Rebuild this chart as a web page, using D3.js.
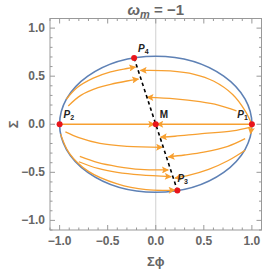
<!DOCTYPE html>
<html>
<head>
<meta charset="utf-8">
<script src="https://cdn.jsdelivr.net/npm/d3@7"></script>
<style>
  body { margin: 0; background: #fff; }
  text { font-family: "Liberation Sans", Arial, sans-serif; }
</style>
</head>
<body>
<div class="chart"></div>
<script>
var xTicks = [-1.0, -0.5, 0.0, 0.5, 1.0];
var yTicks = [-1.0, -0.5, 0.0, 0.5, 1.0];
var minorStep = 0.1;

// boundary: x^2 + y^2 / b^2 = 1
var ellipseA = 1;
var ellipseB = Math.SQRT1_2;

var points = [
  { name: "P", sub: "1", x: 1, y: 0, dx: -4, dy: -6, anchor: "end" },
  { name: "P", sub: "2", x: -1, y: 0, dx: 4, dy: -6, anchor: "start" },
  { name: "P", sub: "3", x: 0.225, y: -0.689, dx: 0, dy: -8, anchor: "start" },
  { name: "P", sub: "4", x: -0.225, y: 0.689, dx: 4, dy: -6, anchor: "start" },
  { name: "M", sub: "", x: 0, y: 0, dx: 4, dy: -6, anchor: "start" }
];

// trajectories, start -> end (arrow at end)
var trajectories = [
  [[-0.93, 0.26], [-0.82, 0.38], [-0.65, 0.48], [-0.47, 0.545], [-0.3, 0.58], [-0.21, 0.595]],
  [[-0.91, 0.19], [-0.78, 0.3], [-0.6, 0.38], [-0.47, 0.415], [-0.3, 0.45], [-0.18, 0.47]],
  [[0.99, 0.02], [0.93, 0.14], [0.8, 0.31], [0.6, 0.45], [0.4, 0.52], [0.15, 0.555], [-0.16, 0.56]],
  [[0.84, 0.14], [0.65, 0.2], [0.46, 0.235], [0.2, 0.265], [-0.09, 0.28]],
  [[-1, 0], [-0.012, 0]],
  [[1, 0], [0.012, 0]],
  [[0.99, -0.03], [0.8, -0.07], [0.46, -0.1], [0.2, -0.125], [0.05, -0.135]],
  [[0.997, -0.02], [0.985, -0.1]],
  [[0.93, -0.15], [0.75, -0.23], [0.5, -0.29], [0.3, -0.32], [0.13, -0.34]],
  [[0.93, -0.27], [0.75, -0.38], [0.55, -0.47], [0.35, -0.53], [0.2, -0.56]],
  [[-0.94, -0.08], [-0.8, -0.14], [-0.58, -0.2], [-0.3, -0.23], [0.07, -0.24]],
  [[-0.79, -0.335], [-0.6, -0.4], [-0.4, -0.44], [-0.16, -0.47], [0.13, -0.475]],
  [[-0.8, -0.39], [-0.6, -0.46], [-0.4, -0.5], [-0.16, -0.527], [0.16, -0.545]],
  [[-0.99, -0.1], [-0.9, -0.3], [-0.7, -0.49], [-0.4, -0.62], [-0.1, -0.68], [0.2, -0.685]]
];

var width = 263, height = 271;
var frame = { left: 50, right: 261.5, top: 18.5, bottom: 230 };
var orange = "#f7a031", blue = "#5e81b5", gray = "#999";

var svg = d3.select(".chart").append("svg")
  .attr("width", width)
  .attr("height", height);

var x = d3.scaleLinear().domain([-1.1, 1.1]).range([frame.left, frame.right]);
var y = d3.scaleLinear().domain([-1.1, 1.1]).range([frame.bottom, frame.top]);

svg.append("defs").append("marker")
  .attr("id", "arrow")
  .attr("viewBox", "0 0 10 10")
  .attr("refX", 9).attr("refY", 5)
  .attr("markerUnits", "userSpaceOnUse")
  .attr("markerWidth", 9).attr("markerHeight", 7)
  .attr("orient", "auto")
  .append("path")
  .attr("d", "M0,0L10,5L0,10L2,5Z")
  .attr("fill", orange);

// axis line at x = 0
svg.append("line")
  .attr("x1", x(0)).attr("x2", x(0))
  .attr("y1", frame.top).attr("y2", frame.bottom)
  .attr("stroke", "#d0d0d0").attr("stroke-width", 1);

// frame with ticks
var minor = d3.range(-1.1, 1.1001, minorStep).map(d => Math.round(d * 10) / 10);
var isMajor = d => Math.abs(d * 2 - Math.round(d * 2)) < 1e-6;

var frameG = svg.append("g").attr("stroke", gray).attr("stroke-width", 1);
frameG.append("rect")
  .attr("x", frame.left).attr("y", frame.top)
  .attr("width", frame.right - frame.left).attr("height", frame.bottom - frame.top)
  .attr("fill", "none");

minor.forEach(function(d) {
  var len = isMajor(d) ? 5 : 2.5;
  frameG.append("line").attr("x1", x(d)).attr("x2", x(d)).attr("y1", frame.bottom).attr("y2", frame.bottom - len);
  frameG.append("line").attr("x1", x(d)).attr("x2", x(d)).attr("y1", frame.top).attr("y2", frame.top + len);
  frameG.append("line").attr("y1", y(d)).attr("y2", y(d)).attr("x1", frame.left).attr("x2", frame.left + len);
  frameG.append("line").attr("y1", y(d)).attr("y2", y(d)).attr("x1", frame.right).attr("x2", frame.right - len);
});

var fmt = d => (d < 0 ? "\u2212" : "") + Math.abs(d).toFixed(1);

svg.selectAll(".xt").data(xTicks).enter().append("text")
  .attr("x", d => x(d)).attr("y", 245)
  .attr("text-anchor", "middle")
  .attr("font-size", 12).attr("font-weight", "bold").attr("fill", "#666")
  .text(fmt);

svg.selectAll(".yt").data(yTicks).enter().append("text")
  .attr("x", 45).attr("y", d => y(d) + 4)
  .attr("text-anchor", "end")
  .attr("font-size", 12).attr("font-weight", "bold").attr("fill", "#666")
  .text(fmt);

// axis labels
svg.append("text")
  .attr("x", x(0)).attr("y", 266)
  .attr("text-anchor", "middle")
  .attr("font-size", 13).attr("font-weight", "bold").attr("fill", "#666")
  .text("\u03A3\u03D5");

svg.append("text")
  .attr("transform", `translate(18, ${y(0)}) rotate(-90)`)
  .attr("text-anchor", "middle")
  .attr("font-size", 13).attr("font-weight", "bold").attr("fill", "#666")
  .text("\u03A3");

// title
var title = svg.append("text")
  .attr("x", x(0)).attr("y", 15)
  .attr("text-anchor", "middle")
  .attr("font-size", 15).attr("font-weight", "bold").attr("fill", "#666");
title.append("tspan").attr("font-style", "italic").text("\u03C9");
title.append("tspan").attr("font-style", "italic").attr("font-size", 11).attr("dy", 3).text("m");
title.append("tspan").attr("dy", -3).text(" = \u22121");

// boundary ellipse
svg.append("ellipse")
  .attr("cx", x(0)).attr("cy", y(0))
  .attr("rx", x(ellipseA) - x(0)).attr("ry", y(0) - y(ellipseB))
  .attr("fill", "none").attr("stroke", blue).attr("stroke-width", 1.6);

// trajectories
var line = d3.line().x(d => x(d[0])).y(d => y(d[1])).curve(d3.curveCatmullRom.alpha(0.5));

svg.append("g").selectAll("path").data(trajectories).enter().append("path")
  .attr("d", line)
  .attr("fill", "none")
  .attr("stroke", orange).attr("stroke-width", 1.3)
  .attr("marker-end", "url(#arrow)");

// line of fixed points P4 -> P3
var p3 = points[2], p4 = points[3];
svg.append("line")
  .attr("x1", x(p4.x)).attr("y1", y(p4.y))
  .attr("x2", x(p3.x)).attr("y2", y(p3.y))
  .attr("stroke", "#000").attr("stroke-width", 1.6)
  .attr("stroke-dasharray", "3.5,3");

// fixed points
svg.selectAll(".pt").data(points).enter().append("circle")
  .attr("cx", d => x(d.x)).attr("cy", d => y(d.y)).attr("r", 3)
  .attr("fill", "#e8151b");

var labels = svg.selectAll(".lbl").data(points).enter().append("text")
  .attr("x", d => x(d.x) + d.dx).attr("y", d => y(d.y) + d.dy)
  .attr("text-anchor", d => d.anchor)
  .attr("font-size", 10).attr("font-weight", "bold").attr("fill", "#222");
labels.append("tspan").attr("font-style", d => d.sub ? "italic" : "normal").text(d => d.name);
labels.append("tspan").attr("font-size", 7).attr("dy", 2).text(d => d.sub);
</script>
</body>
</html>
